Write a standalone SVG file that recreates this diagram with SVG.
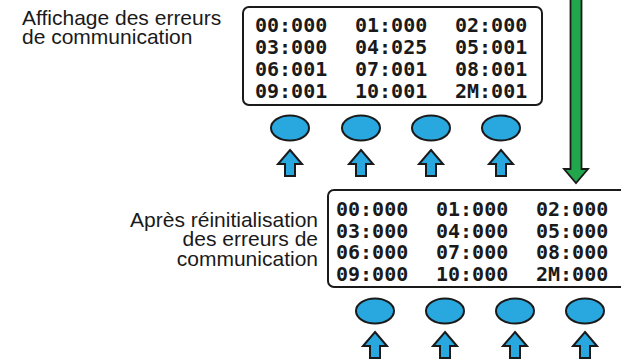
<svg xmlns="http://www.w3.org/2000/svg" width="621" height="361" viewBox="0 0 621 361">
<defs>
<style>
.lbl{font-family:"Liberation Sans",Arial,sans-serif;font-size:21px;fill:#1a1a1a}
.mono{font-family:"DejaVu Sans Mono",monospace;font-weight:bold;font-size:20px;fill:#1a1a1a}
.box{fill:#fff;stroke:#1a1a1a;stroke-width:2}
.btn{fill:#29a8e0;stroke:#1a1a1a;stroke-width:2}
.up{fill:#29a8e0;stroke:#1a1a1a;stroke-width:2;stroke-linejoin:miter}
</style>
<polygon id="uparrow" points="0,0 12,14 5,14 5,26 -5,26 -5,14 -12,14" class="up"/>
</defs>
<rect width="621" height="361" fill="#fff"/>
<g id="label-top">
<text class="lbl" x="22" y="25">Affichage des erreurs</text>
<text class="lbl" x="22" y="44">de communication</text>
</g>
<g id="display-top">
<rect class="box" x="243" y="7" width="299" height="98" rx="6"/>
<text class="mono" x="255" y="32">00:000</text><text class="mono" x="355" y="32">01:000</text><text class="mono" x="455" y="32">02:000</text>
<text class="mono" x="255" y="54">03:000</text><text class="mono" x="355" y="54">04:025</text><text class="mono" x="455" y="54">05:001</text>
<text class="mono" x="255" y="76">06:001</text><text class="mono" x="355" y="76">07:001</text><text class="mono" x="455" y="76">08:001</text>
<text class="mono" x="255" y="98">09:001</text><text class="mono" x="355" y="98">10:001</text><text class="mono" x="455" y="98">2M:001</text>
</g>
<g id="buttons-top">
<ellipse class="btn" cx="290" cy="128" rx="19" ry="12.5"/>
<ellipse class="btn" cx="361" cy="128" rx="19" ry="12.5"/>
<ellipse class="btn" cx="431" cy="128" rx="19" ry="12.5"/>
<ellipse class="btn" cx="501" cy="128" rx="19" ry="12.5"/>
<use href="#uparrow" x="290" y="150"/>
<use href="#uparrow" x="361" y="150"/>
<use href="#uparrow" x="431" y="150"/>
<use href="#uparrow" x="501" y="150"/>
</g>
<g id="connectors">
<polygon points="570.5,-5 581.5,-5 581.5,169 588,169 576,183 564,169 570.5,169" fill="#22a64b" stroke="#1a1a1a" stroke-width="1.8" stroke-linejoin="miter"/>
</g>
<g id="label-bottom">
<text class="lbl" x="318" y="226.5" text-anchor="end">Après réinitialisation</text>
<text class="lbl" x="318" y="246" text-anchor="end">des erreurs de</text>
<text class="lbl" x="318" y="265.5" text-anchor="end">communication</text>
</g>
<g id="display-bottom">
<rect class="box" x="328" y="190" width="310" height="97" rx="6"/>
<text class="mono" x="336" y="216">00:000</text><text class="mono" x="436" y="216">01:000</text><text class="mono" x="536" y="216">02:000</text>
<text class="mono" x="336" y="237.5">03:000</text><text class="mono" x="436" y="237.5">04:000</text><text class="mono" x="536" y="237.5">05:000</text>
<text class="mono" x="336" y="259">06:000</text><text class="mono" x="436" y="259">07:000</text><text class="mono" x="536" y="259">08:000</text>
<text class="mono" x="336" y="280.5">09:000</text><text class="mono" x="436" y="280.5">10:000</text><text class="mono" x="536" y="280.5">2M:000</text>
</g>
<g id="buttons-bottom">
<ellipse class="btn" cx="375" cy="311" rx="19" ry="12.5"/>
<ellipse class="btn" cx="445" cy="311" rx="19" ry="12.5"/>
<ellipse class="btn" cx="515" cy="311" rx="19" ry="12.5"/>
<ellipse class="btn" cx="585" cy="311" rx="19" ry="12.5"/>
<use href="#uparrow" x="375" y="332"/>
<use href="#uparrow" x="445" y="332"/>
<use href="#uparrow" x="515" y="332"/>
<use href="#uparrow" x="585" y="332"/>
</g>
</svg>
